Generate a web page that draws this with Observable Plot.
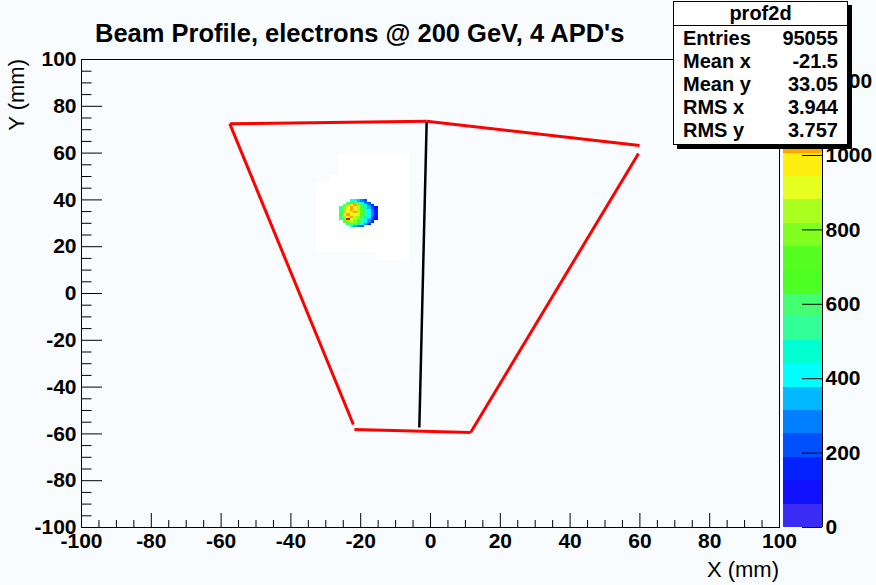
<!DOCTYPE html>
<html><head><meta charset="utf-8">
<script src="https://cdn.jsdelivr.net/npm/d3@7"></script>
<script src="https://cdn.jsdelivr.net/npm/@observablehq/plot@0.6"></script>
<style>
html,body{margin:0;padding:0;background:#f8fcff;}
#wrap{position:relative;width:876px;height:585px;overflow:hidden;font-family:"Liberation Sans",Arial,Helvetica,sans-serif;color:#000;}
#wrap svg{position:absolute;top:0;}
#title{position:absolute;left:95px;top:20px;font-weight:bold;font-size:25.5px;line-height:26px;white-space:nowrap;}
#xt{position:absolute;right:97px;top:559px;font-size:22px;line-height:22px;white-space:nowrap;}
#yt{position:absolute;left:6px;top:59px;font-size:22px;line-height:22px;white-space:nowrap;transform-origin:0 0;transform:rotate(-90deg) translate(-100%,0);}
#stats{position:absolute;left:673px;top:1px;width:175px;height:144px;box-sizing:border-box;border:1px solid #000;background:#fff;box-shadow:4px 4px 0 #000;z-index:5;font-weight:bold;font-size:20px;}
#stats .hdr{height:23px;line-height:23px;text-align:center;border-bottom:1px solid #000;}
#stats .row{display:flex;justify-content:space-between;height:23px;line-height:23px;padding:0 9px;}
#stats .rows{padding-top:1px;}
</style></head>
<body><div id="wrap"></div>
<script>
// ---- data ----
const titleText = "Beam Profile, electrons @ 200 GeV, 4 APD's";
const xTitle = "X (mm)";
const yTitle = "Y (mm)";
const statsName = "prof2d";
const statsLabels = ["Entries", "Mean x", "Mean y", "RMS x", "RMS y"];
const statsValues = ["95055", "-21.5", "33.05", "3.944", "3.757"];

const xMajor = [-100, -80, -60, -40, -20, 0, 20, 40, 60, 80, 100];
const yMajor = [-100, -80, -60, -40, -20, 0, 20, 40, 60, 80, 100];
const barTicks = [0, 200, 400, 600, 800, 1000, 1200];
const zMax = 1258;
const levelColors = ["#3a2cf4", "#1010ff", "#0422ff", "#0050ff", "#0080ff", "#00b8ff", "#00ffff", "#00ffd0",
  "#33ff99", "#44ff70", "#4dff22", "#55ff20", "#80ff20", "#aaff20", "#e5ff20", "#ffee10",
  "#ffa500", "#ff7a00", "#ff4a00", "#ff0000"];

// beam spot cells (1 mm bins), x = left edge, y = lower edge
const spotX = [-26, -25, -24, -23, -22, -21, -20, -19, -18, -17, -16];
const spotY = [39, 38, 37, 36, 35, 34, 33, 32, 31, 30, 29, 28];
const spotRows = [
  [null, null, null, 380, 400, 330, 260, 200, null, null, null],
  [null, null, 560, 640, 600, 520, 420, 300, 200, null, null],
  [null, 600, 780, 960, 1020, 760, 560, 420, 300, 170, null],
  [520, 760, 900, 1040, 980, 840, 640, 480, 350, 220, 110],
  [600, 830, 990, 1060, 950, 880, 700, 520, 400, 260, 130],
  [620, 880, 960, 1000, 1030, 860, 720, 560, 420, 280, 140],
  [640, 900, 1050, 980, 920, 900, 680, 540, 400, 270, 130],
  [600, 850, 1000, 1040, 880, 800, 660, 500, 380, 250, 120],
  [560, 780, 1250, 940, 860, 760, 620, 480, 340, 220, 100],
  [null, 680, 800, 860, 780, 680, 540, 400, 300, 180, null],
  [null, null, 600, 620, 580, 480, 380, 260, 180, null, null],
  [null, null, null, 400, 360, 300, 220, null, null, null, null]
];
// filled-but-empty bins (drawn white)
const zeroX1 = [-26.4, -32.7, -28.7, -15.2];
const zeroX2 = [-6.0, -26.4, -26.4, -6.0];
const zeroY1 = [17.5, 17.5, 47.4, 14.1];
const zeroY2 = [59.8, 47.4, 50.4, 17.5];
// detector outline (mm)
const outX1 = [-57.5, -1.1, 59.6, -21.8, -57.5];
const outY1 = [72.5, 73.6, 59.8, -58.1, 72.5];
const outX2 = [-1.1, 59.9, 11.5, 11.5, -22.1];
const outY2 = [73.6, 63.2, -59.4, -59.4, -56.0];
const divX1 = [-1.1], divY1 = [73.3], divX2 = [-3.2], divY2 = [-57.3];

// ---- build ----
const W = 876, H = 585, mL = 81, mR = 97, mT = 59, mB = 58;
const pxX = (W - mL - mR) / 200, pxY = (H - mT - mB) / 200;
const cells = [];
spotRows.forEach((row, j) => row.forEach((v, i) => { if (v != null) cells.push({x: spotX[i], y: spotY[j], v}); }));
const zeros = zeroX1.map((d, i) => ({x1: d, x2: zeroX2[i], y1: zeroY1[i], y2: zeroY2[i]}));
const outline = outX1.map((d, i) => ({x1: d, y1: outY1[i], x2: outX2[i], y2: outY2[i]}));
const divider = divX1.map((d, i) => ({x1: d, y1: divY1[i], x2: divX2[i], y2: divY2[i]}));
const step = zMax / levelColors.length;
const thresholds = d3.range(1, levelColors.length).map(i => i * step);
const levels = levelColors.map((c, i) => ({lo: i * step, hi: (i + 1) * step, mid: (i + 0.5) * step}));
const xMinor = d3.range(-100, 101, 5).filter(v => v % 20 !== 0);
const yMinor = d3.range(-100, 101, 5).filter(v => v % 20 !== 0);
const color = {type: "threshold", domain: thresholds, range: levelColors};
const fmt = d => String(d);
const style = {fontFamily: "'Liberation Sans', Arial, sans-serif", fontSize: "21px", fontWeight: "bold", background: "transparent", overflow: "visible", color: "#000"};

const main = Plot.plot({
  width: W, height: H, marginLeft: mL, marginRight: mR, marginTop: mT, marginBottom: mB,
  x: {domain: [-100, 100]}, y: {domain: [-100, 100]}, color, style,
  marks: [
    Plot.rect(zeros, {x1: "x1", x2: "x2", y1: "y1", y2: "y2", fill: "white"}),
    Plot.rect(cells, {x1: "x", x2: d => d.x + 1, y1: "y", y2: d => d.y + 1, fill: "v", shapeRendering: "crispEdges"}),
    Plot.link(outline, {x1: "x1", y1: "y1", x2: "x2", y2: "y2", stroke: "#ff0000", strokeWidth: 3, strokeLinecap: "butt"}),
    Plot.link(divider, {x1: "x1", y1: "y1", x2: "x2", y2: "y2", stroke: "#000", strokeWidth: 2.5}),
    Plot.frame({stroke: "#000", strokeWidth: 1}),
    Plot.ruleX(xMajor, {x: d => d, y1: -100, y2: -100 + 14 / pxY, stroke: "#000"}),
    Plot.ruleX(xMinor, {x: d => d, y1: -100, y2: -100 + 7 / pxY, stroke: "#000"}),
    Plot.ruleY(yMajor, {y: d => d, x1: -100, x2: -100 + 21 / pxX, stroke: "#000"}),
    Plot.ruleY(yMinor, {y: d => d, x1: -100, x2: -100 + 10.5 / pxX, stroke: "#000"}),
    Plot.axisX({ticks: xMajor, tickSize: 0, tickPadding: 6, tickFormat: fmt, label: null}),
    Plot.axisY({ticks: yMajor, tickSize: 0, tickPadding: 5, tickFormat: fmt, label: null})
  ]
});
main.style.left = "0px";

const barW = 39;
const bar = Plot.plot({
  width: W - 783, height: H, marginLeft: 0, marginRight: W - 783 - barW, marginTop: mT, marginBottom: mB,
  x: {domain: [0, 1], axis: null}, y: {domain: [0, zMax]}, color, style,
  marks: [
    Plot.rect(levels, {x1: 0, x2: 1, y1: "lo", y2: "hi", fill: "mid", shapeRendering: "crispEdges"}),
    Plot.ruleY(barTicks, {y: d => d, x1: 1 - 20 / barW, x2: 1, stroke: "#000"}),
    Plot.ruleX([1], {x: d => d, y1: 0, y2: zMax, stroke: "#000"}),
    Plot.axisY({anchor: "right", ticks: barTicks, tickSize: 0, tickPadding: 3, tickFormat: fmt, label: null})
  ]
});
bar.style.left = "783px";

const wrap = document.getElementById("wrap");
wrap.appendChild(main);
wrap.appendChild(bar);
const t = document.createElement("div"); t.id = "title"; t.textContent = titleText; wrap.appendChild(t);
const xt = document.createElement("div"); xt.id = "xt"; xt.textContent = xTitle; wrap.appendChild(xt);
const yt = document.createElement("div"); yt.id = "yt"; yt.textContent = yTitle; wrap.appendChild(yt);
const st = document.createElement("div"); st.id = "stats";
const hdr = document.createElement("div"); hdr.className = "hdr"; hdr.textContent = statsName; st.appendChild(hdr);
const rows = document.createElement("div"); rows.className = "rows";
statsLabels.forEach((l, i) => {
  const r = document.createElement("div"); r.className = "row";
  const a = document.createElement("span"); a.textContent = l;
  const b = document.createElement("span"); b.textContent = statsValues[i];
  r.appendChild(a); r.appendChild(b); rows.appendChild(r);
});
st.appendChild(rows);
wrap.appendChild(st);
</script></body></html>
